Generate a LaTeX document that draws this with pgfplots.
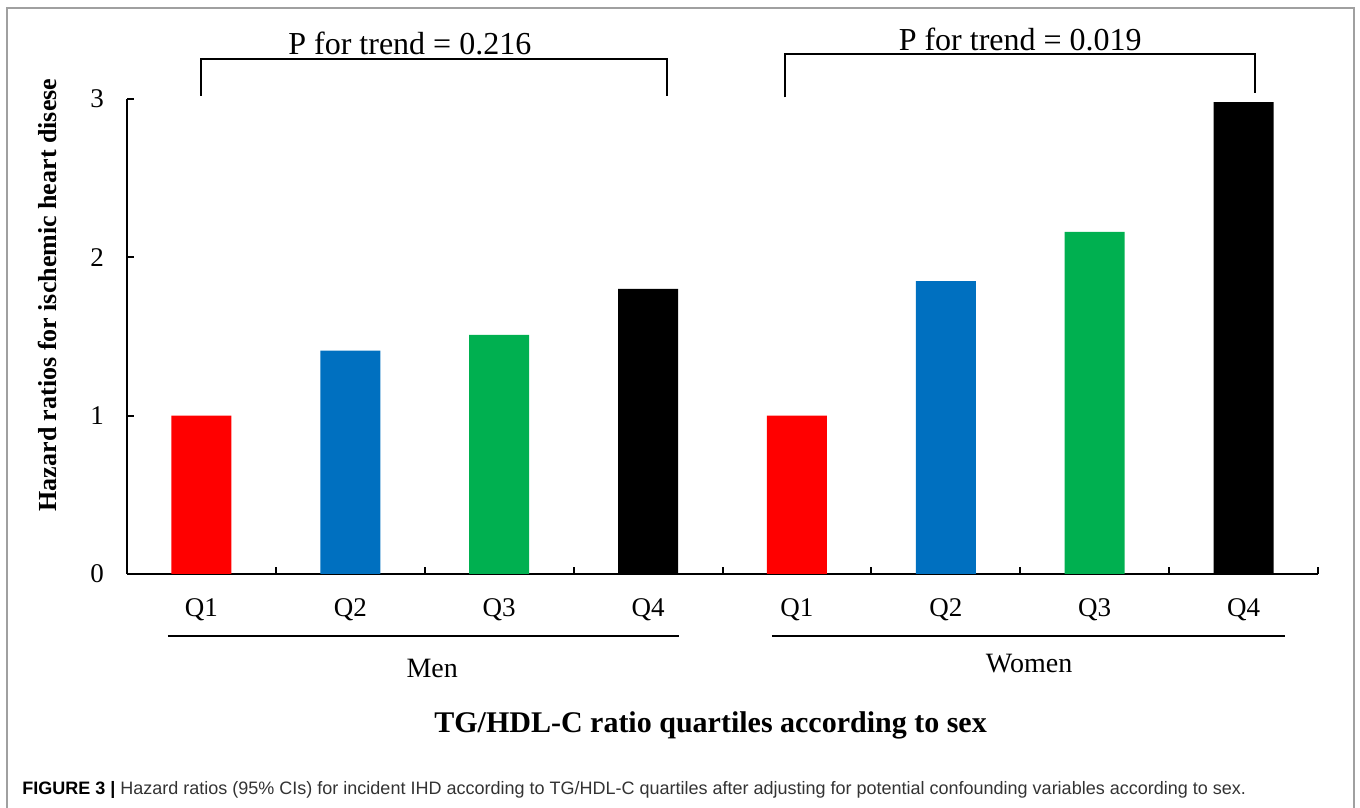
\documentclass[border=0pt]{standalone}
\usepackage{fontspec}
\setmainfont{Liberation Serif}
\newfontfamily\capfont{Liberation Sans}
\usepackage{pgfplots}
\pgfplotsset{compat=1.18}
\definecolor{qred}{RGB}{255,0,0}
\definecolor{qblue}{RGB}{0,112,192}
\definecolor{qgreen}{RGB}{0,176,80}
\definecolor{framegray}{RGB}{160,160,160}
\begin{document}
\begin{tikzpicture}
\useasboundingbox (0,0) rectangle (680pt,404pt);
\draw[framegray, line width=1pt] (3.5pt,-2pt) -- (3.5pt,400pt) -- (677pt,400pt) -- (677pt,-2pt);
\begin{axis}[
  at={(63.5pt,117pt)}, anchor=south west,
  scale only axis, width=595.5pt, height=237.5pt,
  xmin=0, xmax=8, ymin=0, ymax=3,
  axis lines*=left,
  axis line style={line width=1pt, -},
  clip=false,
  tick align=inside,
  major tick length=3.5pt,
  every tick/.style={black, line width=1pt},
  /pgf/number format/assume math mode=true,
  ytick={0,1,2,3},
  yticklabel style={font=\fontsize{13.5}{15}\selectfont, xshift=-8pt},
  xtick={1,2,3,4,5,6,7,8},
  xticklabels={},
  extra x ticks={0.5,1.5,2.5,3.5,4.5,5.5,6.5,7.5},
  extra x tick labels={Q1,Q2,Q3,Q4,Q1,Q2,Q3,Q4},
  extra x tick style={major tick length=0pt,
    xticklabel style={font=\fontsize{13.5}{15}\selectfont, anchor=base, yshift=-21.5pt}},
]
\addplot[ybar, bar width=30pt, bar shift=0pt, fill=qred, draw=none] coordinates {(0.5,1.00) (4.5,1.00)};
\addplot[ybar, bar width=30pt, bar shift=0pt, fill=qblue, draw=none] coordinates {(1.5,1.41) (5.5,1.85)};
\addplot[ybar, bar width=30pt, bar shift=0pt, fill=qgreen, draw=none] coordinates {(2.5,1.51) (6.5,2.16)};
\addplot[ybar, bar width=30pt, bar shift=0pt, fill=black, draw=none] coordinates {(3.5,1.80) (7.5,2.98)};

% trend brackets
\draw[line width=1pt] (axis cs:0.5,3.02) -- (axis cs:0.5,3.253) -- (axis cs:3.63,3.253) -- (axis cs:3.63,3.02);
\draw[line width=1pt] (axis cs:4.42,3.01) -- (axis cs:4.42,3.285) -- (axis cs:7.58,3.285) -- (axis cs:7.58,3.04);
\node[font=\fontsize{16}{19}\selectfont] at (axis cs:1.90,3.351) {P for trend = 0.216};
\node[font=\fontsize{16}{19}\selectfont] at (axis cs:6.0,3.373) {P for trend = 0.019};

% group underlines and labels
\draw[line width=1pt] (axis cs:0.275,-0.392) -- (axis cs:3.707,-0.392);
\draw[line width=1pt] (axis cs:4.332,-0.392) -- (axis cs:7.777,-0.392);
\node[font=\fontsize{14}{17}\selectfont, anchor=base] at (axis cs:2.05,-0.651) {Men};
\node[font=\fontsize{14}{17}\selectfont, anchor=base] at (axis cs:6.06,-0.625) {Women};
\node[font=\fontsize{15}{18}\selectfont\bfseries, anchor=base] at (axis cs:3.92,-1.004) {TG/HDL-C ratio quartiles according to sex};
\node[font=\fontsize{13}{15}\selectfont\bfseries, rotate=90] at (axis cs:-0.537,1.762) {Hazard ratios for ischemic heart disese};
\end{axis}
\node[anchor=base west, inner sep=0pt, font=\capfont\fontsize{9}{11}\selectfont, text=black!80] at (11pt,6.5pt)
  {\textcolor{black}{\textbf{FIGURE 3 |}} Hazard ratios (95\% CIs) for incident IHD according to TG/HDL-C quartiles after adjusting for potential confounding variables according to sex.};
\end{tikzpicture}
\end{document}
